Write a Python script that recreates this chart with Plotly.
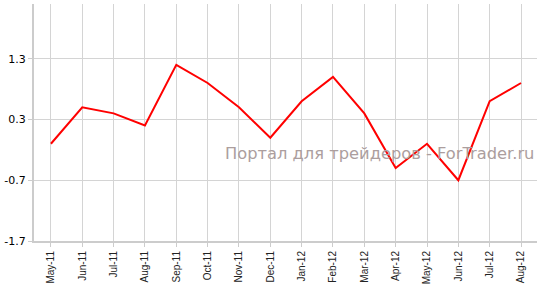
import plotly.graph_objects as go

categories = ["May-11", "Jun-11", "Jul-11", "Aug-11", "Sep-11", "Oct-11", "Nov-11", "Dec-11",
              "Jan-12", "Feb-12", "Mar-12", "Apr-12", "May-12", "Jun-12", "Jul-12", "Aug-12"]
values = [-0.1, 0.5, 0.4, 0.2, 1.2, 0.9, 0.5, 0.0, 0.6, 1.0, 0.4, -0.5, -0.1, -0.7, 0.6, 0.9]
y_ticks = [-1.7, -0.7, 0.3, 1.3]
y_tick_labels = ["-1.7", "-0.7", "0.3", "1.3"]
watermark = "Портал для трейдеров - ForTrader.ru"

fig = go.Figure()
fig.add_trace(go.Scatter(
    x=list(range(len(categories))), y=values, mode="lines",
    line=dict(color="#ff0000", width=2), hoverinfo="skip", showlegend=False,
))

fig.add_annotation(
    text=watermark, xref="paper", yref="paper",
    x=(379 - 31) / 506, y=(242 - 154) / 238,
    xanchor="center", yanchor="middle", showarrow=False,
    font=dict(family="DejaVu Sans", size=16.3, color="rgb(172,158,158)"),
)

fig.update_layout(
    width=541, height=288,
    margin=dict(l=31, r=4, t=4, b=46),
    paper_bgcolor="white", plot_bgcolor="white",
    showlegend=False,
    xaxis=dict(
        range=[-0.54, 15.51],
        tickmode="array", tickvals=list(range(len(categories))), ticktext=categories,
        tickangle=-90,
        tickfont=dict(family="Liberation Sans", size=10, color="#222"),
        showgrid=True, gridcolor="#d4d4d4", gridwidth=1,
        showline=True, linecolor="#cccccc", linewidth=2,
        ticks="outside", ticklen=4, tickcolor="#cccccc",
        zeroline=False,
    ),
    yaxis=dict(
        range=[-1.7, 2.2],
        tickmode="array", tickvals=y_ticks, ticktext=y_tick_labels,
        tickfont=dict(family="DejaVu Sans", size=11, color="#000"),
        showgrid=True, gridcolor="#d4d4d4", gridwidth=1,
        showline=True, linecolor="#cccccc", linewidth=2,
        ticks="outside", ticklen=4, tickcolor="#cccccc",
        zeroline=False,
    ),
)

fig.write_html("out.html")
